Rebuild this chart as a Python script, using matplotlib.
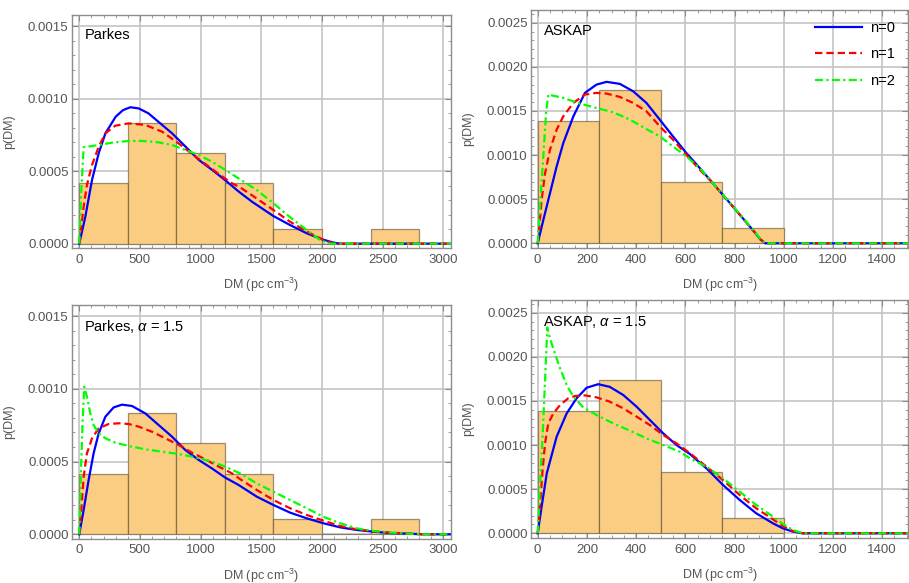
import numpy as np
import matplotlib
matplotlib.use('Agg')
import matplotlib.pyplot as plt
from matplotlib.ticker import MultipleLocator, FormatStrFormatter

plt.rcParams['font.family'] = ['Liberation Sans', 'DejaVu Sans']
plt.rcParams['mathtext.fontset'] = 'custom'
plt.rcParams['mathtext.rm'] = 'Liberation Sans'
plt.rcParams['mathtext.it'] = 'Liberation Sans:italic'

# histogram data (counts per bin)
PK_EDGES = [0, 400, 800, 1200, 1600, 2000, 2400, 2800]
PK_COUNTS = [4, 8, 6, 4, 1, 0, 1]
AS_EDGES = [0, 250, 500, 750, 1000]
AS_COUNTS = [8, 10, 4, 1]

# curves, p(DM) in units of 1e-4
# Parkes
PK0_X = [0, 50, 105, 160, 215, 300, 360, 420, 490, 570, 765, 875, 985, 1095, 1200, 1315, 1425, 1600, 1735, 1875, 2000, 2095, 2150, 3100]
PK0_Y = [0, 1.86, 4.39, 6.23, 7.60, 8.75, 9.20, 9.40, 9.32, 8.98, 7.60, 6.69, 5.77, 5.08, 4.39, 3.58, 2.88, 1.90, 1.29, 0.71, 0.30, 0.07, 0, 0]
PK1_X = [0, 17, 36, 63, 105, 160, 215, 297, 407, 545, 682, 819, 929, 1039, 1149, 1258, 1325, 1425, 1600, 1735, 1875, 2000, 2095, 3100]
PK1_Y = [0, 1.17, 2.55, 4.04, 5.42, 6.68, 7.60, 8.13, 8.29, 8.18, 7.72, 6.91, 6.18, 5.49, 4.80, 4.16, 3.88, 3.32, 2.32, 1.52, 0.83, 0.30, 0, 0]
PK2_X = [0, 17, 36, 160, 270, 407, 517, 654, 764, 874, 984, 1093, 1203, 1325, 1462, 1600, 1737, 1874, 1984, 2067, 3100]
PK2_Y = [0, 3.7, 6.64, 6.80, 6.96, 7.08, 7.08, 6.98, 6.80, 6.46, 6.11, 5.65, 5.08, 4.43, 3.70, 2.78, 1.82, 0.94, 0.25, 0, 0]

# ASKAP
AS0_X = [0, 23, 50, 77, 104, 145, 192, 239, 280, 334, 388, 442, 496, 550, 604, 659, 706, 800, 870, 905, 925, 1510]
AS0_Y = [0, 2.65, 5.68, 8.71, 11.36, 14.39, 17.05, 17.99, 18.30, 18.07, 17.23, 15.91, 14.02, 12.12, 10.23, 8.52, 7.0, 3.95, 1.65, 0.45, 0, 0]
AS1_X = [0, 7, 16, 30, 50, 77, 104, 145, 192, 239, 280, 334, 388, 442, 496, 550, 604, 659, 706, 800, 870, 905, 925, 1510]
AS1_Y = [0, 1.89, 4.92, 7.95, 10.61, 12.88, 14.39, 15.91, 16.86, 17.05, 16.97, 16.59, 15.91, 14.96, 13.26, 11.74, 10.04, 8.33, 7.0, 3.95, 1.65, 0.45, 0, 0]
AS2_X = [0, 9, 23, 34, 43, 104, 172, 239, 307, 375, 442, 496, 550, 604, 659, 706, 800, 870, 905, 925, 1510]
AS2_Y = [0, 4.09, 9.85, 14.77, 16.86, 16.48, 15.83, 15.34, 14.85, 14.02, 12.95, 12.12, 10.98, 9.85, 8.52, 7.0, 4.0, 1.7, 0.5, 0, 0]

# Parkes, alpha = 1.5
PKA0_X = [0, 36, 77, 118, 160, 215, 283, 352, 434, 544, 654, 764, 874, 984, 1093, 1198, 1313, 1462, 1599, 1737, 1874, 2011, 2149, 2286, 2423, 2561, 2698, 2836, 3100]
PKA0_Y = [0, 1.67, 3.73, 5.56, 6.94, 8.08, 8.72, 8.91, 8.82, 8.31, 7.51, 6.71, 5.79, 5.11, 4.53, 3.92, 3.39, 2.59, 2.02, 1.49, 1.10, 0.76, 0.48, 0.30, 0.18, 0.09, 0.05, 0, 0]
PKA1_X = [0, 17, 36, 63, 105, 160, 242, 324, 407, 489, 599, 709, 819, 929, 1039, 1149, 1258, 1324, 1462, 1599, 1737, 1874, 2011, 2149, 2286, 2423, 2561, 2698, 2836, 3100]
PKA1_Y = [0, 1.67, 3.96, 5.56, 6.60, 7.28, 7.58, 7.63, 7.58, 7.40, 7.05, 6.60, 6.14, 5.61, 5.15, 4.65, 4.19, 3.80, 3.05, 2.36, 1.79, 1.33, 0.94, 0.57, 0.34, 0.21, 0.12, 0.05, 0, 0]
PKA2_X = [0, 14, 28, 41, 63, 91, 118, 160, 215, 297, 407, 545, 682, 819, 956, 1093, 1203, 1324, 1462, 1599, 1737, 1874, 2011, 2149, 2286, 2423, 2561, 2698, 2836, 3100]
PKA2_Y = [0, 4.42, 7.85, 10.14, 9.46, 8.31, 7.51, 6.94, 6.60, 6.30, 6.07, 5.84, 5.68, 5.52, 5.29, 4.99, 4.65, 4.19, 3.50, 2.93, 2.36, 1.79, 1.21, 0.76, 0.41, 0.23, 0.12, 0.05, 0, 0]

# ASKAP, alpha = 1.5
ASA0_X = [0, 16, 37, 77, 118, 158, 199, 246, 293, 348, 402, 456, 510, 564, 618, 686, 753, 821, 888, 956, 996, 1037, 1077, 1510]
ASA0_Y = [0, 3.02, 6.80, 10.95, 13.60, 15.30, 16.50, 16.90, 16.60, 15.67, 14.35, 12.84, 11.33, 10.01, 9.0, 7.36, 5.48, 3.78, 2.27, 1.13, 0.57, 0.19, 0, 0]
ASA1_X = [0, 9, 20, 30, 43, 64, 91, 124, 151, 192, 239, 293, 348, 402, 456, 510, 564, 618, 686, 753, 821, 888, 956, 996, 1037, 1077, 1510]
ASA1_Y = [0, 3.02, 7.18, 10.20, 12.46, 13.60, 14.54, 15.30, 15.56, 15.63, 15.41, 14.92, 14.16, 13.22, 12.27, 11.14, 10.20, 9.10, 7.55, 6.04, 4.34, 2.83, 1.59, 0.83, 0.26, 0, 0]
ASA2_X = [0, 9, 20, 30, 39, 50, 70, 91, 118, 145, 185, 239, 307, 375, 442, 510, 577, 618, 686, 753, 821, 888, 956, 996, 1037, 1077, 1510]
ASA2_Y = [0, 5.29, 10.95, 17.37, 23.34, 22.09, 20.39, 18.69, 16.80, 15.48, 14.28, 13.41, 12.46, 11.63, 10.76, 10.01, 9.25, 8.5, 7.55, 6.23, 4.72, 3.21, 1.89, 1.06, 0.38, 0, 0]

TEXT_GRAY = '#555555'
FRAME_GRAY = '#8c8c8c'
BAR_FACE = '#facd82'
BAR_EDGE = (0.3, 0.25, 0.15, 0.55)

STYLES = [
    dict(color=(0, 0, 1), lw=1.6, ls='-', label='n=0'),
    dict(color=(1, 0, 0), lw=1.6, ls=(0, (3.3, 1.8)), label='n=1'),
    dict(color=(0, 1, 0), lw=1.6, ls=(0, (3.6, 1.5, 1.0, 1.5)), label='n=2'),
]


def draw_panel(ax, edges, counts, curves, title, xlim, ylim, xmaj, xmin, legend=False):
    edges = np.array(edges, dtype=float)
    counts = np.array(counts, dtype=float)
    widths = np.diff(edges)
    dens = counts / (counts.sum() * widths)
    ax.bar(edges[:-1], dens, width=widths, align='edge', color=BAR_FACE,
           edgecolor=BAR_EDGE, linewidth=0.9, zorder=2)
    for (cx, cy), st in zip(curves, STYLES):
        ax.plot(cx, np.array(cy) * 1e-4, zorder=3, solid_joinstyle='round',
                dash_joinstyle='round', **st)
    ax.set_xlim(*xlim)
    ax.set_ylim(*ylim)
    ax.xaxis.set_major_locator(MultipleLocator(xmaj))
    ax.xaxis.set_minor_locator(MultipleLocator(xmin))
    ax.yaxis.set_major_locator(MultipleLocator(0.0005))
    ax.yaxis.set_minor_locator(MultipleLocator(0.0001))
    ax.yaxis.set_major_formatter(FormatStrFormatter('%.4f'))
    ax.set_axisbelow(True)
    ax.grid(True, which='major', color='#c4c4c4', lw=1.2)
    for sp in ax.spines.values():
        sp.set_color(FRAME_GRAY)
        sp.set_linewidth(1.0)
    ax.tick_params(which='both', direction='in', top=True, right=True,
                   color=FRAME_GRAY, labelcolor=TEXT_GRAY, labelsize=9.5)
    ax.tick_params(which='major', length=4.5, width=0.8)
    ax.tick_params(which='minor', length=2.5, width=0.6)
    ax.tick_params(axis='x', pad=4.0)
    ax.tick_params(axis='y', pad=2.5)
    ax.set_xlabel('DM (pc cm$^{-3}$)', color=TEXT_GRAY, fontsize=9)
    ax.set_ylabel('p(DM)', color=TEXT_GRAY, fontsize=9)
    ax.xaxis.set_label_coords(0.5, -0.118)
    ax.yaxis.set_label_coords(-0.15, 0.5)
    ax.text(0.033, 0.942, title, transform=ax.transAxes, ha='left', va='top',
            fontsize=10.5, color='black')
    if legend:
        ax.legend(loc='upper right', bbox_to_anchor=(0.995, 1.0), frameon=False,
                  fontsize=10.5, handlelength=3.2, handletextpad=0.6,
                  labelspacing=0.85, borderaxespad=0.35)


fig = plt.figure(figsize=(9.09, 5.83), dpi=100)
ax1 = fig.add_axes([0.0792, 0.5746, 0.4166, 0.4002])
ax2 = fig.add_axes([0.5842, 0.5746, 0.4150, 0.4082])
ax3 = fig.add_axes([0.0792, 0.0760, 0.4166, 0.4014])
ax4 = fig.add_axes([0.5842, 0.0772, 0.4150, 0.4082])

draw_panel(ax1, PK_EDGES, PK_COUNTS,
           [(PK0_X, PK0_Y), (PK1_X, PK1_Y), (PK2_X, PK2_Y)],
           'Parkes', (-60, 3060), (-0.00003, 0.001578), 500, 100)
draw_panel(ax2, AS_EDGES, AS_COUNTS,
           [(AS0_X, AS0_Y), (AS1_X, AS1_Y), (AS2_X, AS2_Y)],
           'ASKAP', (-27, 1506), (-0.000053, 0.002644), 200, 50, legend=True)
draw_panel(ax3, PK_EDGES, PK_COUNTS,
           [(PKA0_X, PKA0_Y), (PKA1_X, PKA1_Y), (PKA2_X, PKA2_Y)],
           r'Parkes, $\alpha$ = 1.5', (-60, 3060), (-0.00003, 0.001578), 500, 100)
draw_panel(ax4, AS_EDGES, AS_COUNTS,
           [(ASA0_X, ASA0_Y), (ASA1_X, ASA1_Y), (ASA2_X, ASA2_Y)],
           r'ASKAP, $\alpha$ = 1.5', (-27, 1506), (-0.000053, 0.002644), 200, 50)

fig.savefig('out.png', dpi=100)
